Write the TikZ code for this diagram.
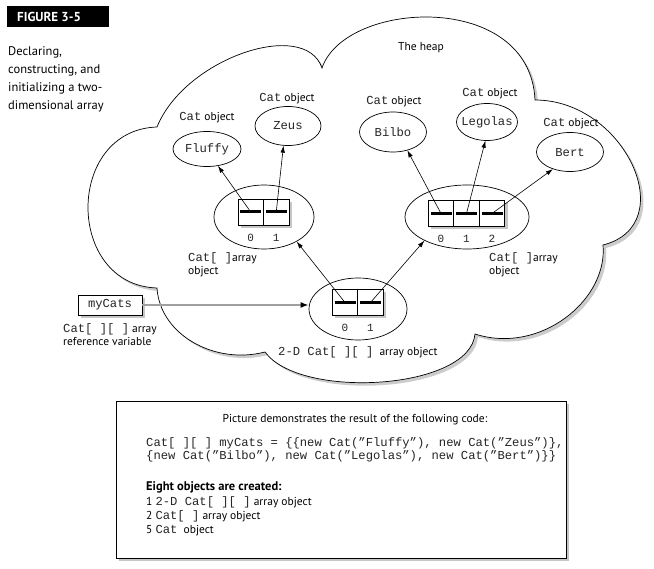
\documentclass[tikz,border=0pt]{standalone}
\usepackage{fontspec}
\setmainfont{PT Sans}
\setmonofont{Liberation Mono}
\usetikzlibrary{shapes.geometric,arrows.meta,shadows}

\newcommand\heapcloud{(157,127) .. controls (185,58) and (305,18) .. (322,68)
 .. controls (345,0) and (530,-10) .. (535,100)
 .. controls (625,100) and (682,225) .. (603,245)
 .. controls (608,300) and (540,355) .. (475,334)
 .. controls (470,390) and (300,400) .. (265,352)
 .. controls (215,365) and (160,335) .. (157,288)
 .. controls (65,285) and (65,130) .. (157,127) -- cycle}
\newcommand\mt[1]{{\ttfamily\fontsize{12.2}{14}\selectfont\color{black!85}#1}}
\newcommand\zw[1]{\makebox[0pt]{#1}}

\begin{document}
\begin{tikzpicture}[x=1pt,y=-1pt,
  sans/.style={font=\fontsize{11.5}{13}\selectfont, inner sep=0pt},
  monof/.style={font=\ttfamily\fontsize{12.2}{14}\selectfont, text=black!85},
  catobj/.style={ellipse, draw, fill=white, line width=0.7pt, inner sep=0pt, monof},
  arrobj/.style={ellipse, draw, fill=white, line width=0.7pt, inner sep=0pt},
  shad/.style={drop shadow={shadow xshift=3pt, shadow yshift=-3pt, fill=gray!45, opacity=1}},
  cell/.style={draw, fill=white, minimum width=25.5pt, minimum height=26pt,
    inner sep=0pt, line width=0.7pt, shad},
  bar/.style={line width=3pt},
  idx/.style={font=\ttfamily\fontsize{11}{12}\selectfont, text=black!85, inner sep=0pt},
  arr/.style={line width=0.6pt, -{Latex[length=7pt,width=4.5pt]}},
  grayarr/.style={draw=gray!75, line width=1.6pt, -{Latex[length=8pt,width=6pt,color=black]}}
]
\useasboundingbox (0,0) rectangle (654,569);

% title block
\node[fill=black, minimum width=102pt, minimum height=21pt, inner sep=0pt, anchor=north west] (figbox) at (7,6) {};
\node[anchor=base west, inner sep=0pt, text=white, font=\bfseries\fontsize{13}{14}\selectfont] (figtxt) at (17,21.5) {FIGURE 3-5};
\node[anchor=base west, inner sep=0pt, font=\fontsize{12.5}{18}\selectfont] (d1) at (8,56) {Declaring,};
\node[anchor=base west, inner sep=0pt, font=\fontsize{12.5}{18}\selectfont] (d2) at (8,74) {constructing, and};
\node[anchor=base west, inner sep=0pt, font=\fontsize{12.5}{18}\selectfont] (d3) at (8,92) {initializing a two-};
\node[anchor=base west, inner sep=0pt, font=\fontsize{12.5}{18}\selectfont] (d4) at (8,110) {dimensional array};

% cloud
\fill[gray!40, shift={(3,3)}] \heapcloud;
\filldraw[fill=white, draw=black, line width=0.7pt] \heapcloud;
\node[sans, anchor=base] (heap) at (421,51) {The heap};

% cat objects
\node[catobj, minimum width=68pt, minimum height=35pt] (fluffy) at (207,149) {\zw{Fluffy}};
\node[catobj, minimum width=66pt, minimum height=39pt] (zeus) at (288,126) {\zw{Zeus}};
\node[catobj, minimum width=67pt, minimum height=40pt] (bilbo) at (393,132) {\zw{Bilbo}};
\node[catobj, minimum width=61pt, minimum height=37pt] (legolas) at (487,122) {\zw{Legolas}};
\node[catobj, minimum width=67pt, minimum height=39pt] (bert) at (570,152) {\zw{Bert}};
\node[sans, anchor=base] (lfluffy) at (207,121) {\mt{Cat} object};
\node[sans, anchor=base] (lzeus) at (287,102) {\mt{Cat} object};
\node[sans, anchor=base] (lbilbo) at (394,105) {\mt{Cat} object};
\node[sans, anchor=base] (llegolas) at (490,97) {\mt{Cat} object};
\node[sans, anchor=base] (lbert) at (571,127) {\mt{Cat} object};

% array objects
\node[arrobj, minimum width=100pt, minimum height=64pt] (larr) at (264,217) {};
\node[arrobj, minimum width=124pt, minimum height=64pt] (rarr) at (467,217) {};
\node[arrobj, minimum width=98pt, minimum height=62pt] (twod) at (358,309) {};

\node[cell] (l0) at (250.75,212) {};
\node[cell] (l1) at (276.25,212) {};
\node[cell] (r0) at (441,213.5) {};
\node[cell] (r1) at (466.5,213.5) {};
\node[cell] (r2) at (492,213.5) {};
\node[cell] (t0) at (345,302.5) {};
\node[cell] (t1) at (370.5,302.5) {};

\node[idx] (il0) at ([yshift=-26pt]l0.center) {0};
\node[idx] (il1) at ([yshift=-26pt]l1.center) {1};
\node[idx] (ir0) at ([yshift=-25.5pt]r0.center) {0};
\node[idx] (ir1) at ([yshift=-25.5pt]r1.center) {1};
\node[idx] (ir2) at ([yshift=-25.5pt]r2.center) {2};
\node[idx] (it0) at ([yshift=-25.5pt]t0.center) {0};
\node[idx] (it1) at ([yshift=-25.5pt]t1.center) {1};

% references
\draw[arr] (l0.center) -- (fluffy.-57);
\draw[arr] (l1.center) -- (zeus.-103);
\draw[arr] (r0.center) -- (bilbo.-52);
\draw[arr] (r1.center) -- (legolas.-95);
\draw[arr] (r2.center) -- (bert.-135);
\draw[arr] (t0.center) -- (larr.-37);
\draw[arr] (t1.center) -- (rarr.209);

% bars
\foreach \c in {l0,l1,t0,t1,r0,r1,r2}
  \draw[bar] ([xshift=-10.5pt]\c.center) -- ([xshift=10.5pt]\c.center);

\node[sans, anchor=base west] (la1) at (188,262) {\mt{Cat[ ]}array};
\node[sans, anchor=base west] (la2) at (188,275) {object};
\node[sans, anchor=base west] (ra1) at (489,262) {\mt{Cat[ ]}array};
\node[sans, anchor=base west] (ra2) at (489,275) {object};
\node[sans, anchor=base west] (tda) at (278,356) {\mt{2-D Cat[ ][ ]}\ \ array object};

% reference variable
\node[draw, fill=white, line width=0.7pt, minimum width=64pt, minimum height=20pt, inner sep=0pt, shad,
  monof] (mycats) at (110,305) {myCats};
\draw[grayarr] (mycats.east) -- (mycats.east -| twod.west);
\node[sans, anchor=base west] (mv1) at (63,333) {\mt{Cat[ ][ ]} array};
\node[sans, anchor=base west] (mv2) at (63,346) {reference variable};

% code box
\node[draw, fill=white, line width=0.7pt, minimum width=450pt, minimum height=157pt, inner sep=0pt,
  anchor=north west, shad] (codebox) at (116,401) {};
\node[sans, anchor=base] (cap) at (355,423) {Picture demonstrates the result of the following code:};
\node[anchor=base west, inner sep=0pt, monof] (c1) at (146,447)
  {Cat[ ][ ] myCats = \{\{new Cat(”Fluffy”), new Cat(”Zeus”)\},};
\node[anchor=base west, inner sep=0pt, monof] (c2) at (146,460)
  {\{new Cat(”Bilbo”), new Cat(”Legolas”), new Cat(”Bert”)\}\}};
\node[sans, anchor=base west, font=\bfseries\fontsize{12.5}{14}\selectfont] (e0) at (146,491) {Eight objects are created:};
\node[sans, anchor=base west] (e1) at (146,506) {1 \mt{2-D Cat[ ][ ]} array object};
\node[sans, anchor=base west] (e2) at (146,519) {2 \mt{Cat[ ]} array object};
\node[sans, anchor=base west] (e3) at (146,533) {5 \mt{Cat}\ \ object};
\end{tikzpicture}
\end{document}
